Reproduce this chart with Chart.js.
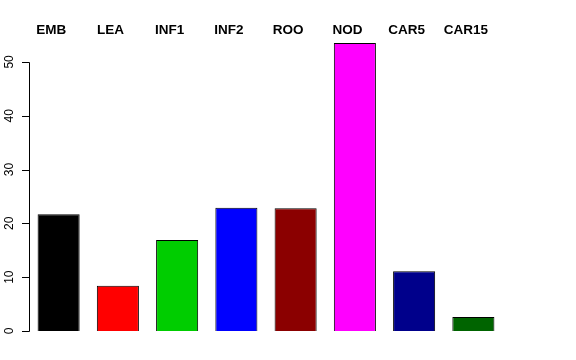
<!DOCTYPE html>
<html>
<head>
<meta charset="utf-8">
<script src="https://cdn.jsdelivr.net/npm/chart.js@4/dist/chart.umd.min.js"></script>
<style>
  html, body { margin: 0; padding: 0; background: #fff; }
  #wrap { width: 576px; height: 360px; }
</style>
</head>
<body>
<div id="wrap"><canvas id="chart" width="576" height="360"></canvas></div>
<script>
// dados
const categories = ["EMB", "LEA", "INF1", "INF2", "ROO", "NOD", "CAR5", "CAR15"];
const values = [21.7, 8.4, 16.9, 22.9, 22.8, 53.5, 11.1, 2.6];
const barColors = ["#000000", "#FF0000", "#00CD00", "#0000FF", "#8B0000", "#FF00FF", "#00008B", "#006400"];
const yTicks = [0, 10, 20, 30, 40, 50];

// rotulos do topo ficam um pouco a esquerda do centro das barras
const LABEL_SHIFT = -0.126;

// eixo Y no estilo R (linha de 0 a 50, rotulos girados) e rotulos no topo
const rAxisPlugin = {
  id: "rAxis",
  afterDraw(chart) {
    const ctx = chart.ctx;
    const y = chart.scales.y;
    const x = chart.scales.x;
    const x0 = chart.chartArea.left;
    ctx.save();
    ctx.strokeStyle = "#000";
    ctx.lineWidth = 1;
    ctx.beginPath();
    ctx.moveTo(x0 + 0.5, Math.round(y.getPixelForValue(yTicks[0])) + 0.5);
    ctx.lineTo(x0 + 0.5, Math.round(y.getPixelForValue(yTicks[yTicks.length - 1])) + 0.5);
    yTicks.forEach((t) => {
      const py = Math.round(y.getPixelForValue(t)) + 0.5;
      ctx.moveTo(x0 + 0.5, py);
      ctx.lineTo(x0 - 7, py);
    });
    ctx.stroke();

    ctx.fillStyle = "#000";
    ctx.font = "12px 'Liberation Sans', Arial, sans-serif";
    ctx.textAlign = "center";
    ctx.textBaseline = "middle";
    yTicks.forEach((t) => {
      const py = y.getPixelForValue(t);
      ctx.save();
      ctx.translate(10, py);
      ctx.rotate(-Math.PI / 2);
      ctx.fillText(String(t), 0, 0);
      ctx.restore();
    });

    ctx.font = "bold 13.5px 'Liberation Sans', Arial, sans-serif";
    categories.forEach((c, i) => {
      ctx.fillText(c, x.getPixelForValue(i + LABEL_SHIFT), 30);
    });
    ctx.restore();
  },
};

new Chart(document.getElementById("chart"), {
  type: "bar",
  data: {
    labels: categories,
    datasets: [
      {
        data: values,
        backgroundColor: barColors,
        borderColor: "#000",
        borderWidth: 1,
        categoryPercentage: 1,
        barPercentage: 0.71,
      },
    ],
  },
  options: {
    responsive: false,
    animation: false,
    layout: { padding: { left: 29, right: 73, top: 35, bottom: 29 } },
    plugins: {
      legend: { display: false },
      tooltip: { enabled: false },
    },
    scales: {
      x: { display: false, offset: true },
      y: { display: false, min: 0, max: 55 },
    },
  },
  plugins: [rAxisPlugin],
});
</script>
</body>
</html>
